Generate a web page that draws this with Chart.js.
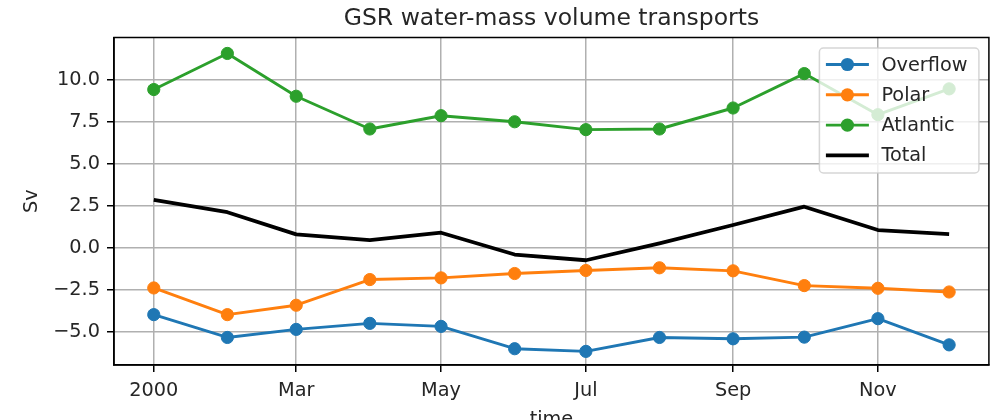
<!DOCTYPE html>
<html>
<head>
<meta charset="utf-8">
<script src="https://cdn.jsdelivr.net/npm/chart.js@4"></script>
<style>
  html, body { margin: 0; padding: 0; background: #fff; overflow: hidden; }
  canvas { display: block; }
</style>
</head>
<body>
<canvas id="c" width="996" height="440" style="width:996px;height:440px"></canvas>
<script>
// ---- data ----
const months = ['2000-01-01','2000-02-01','2000-03-01','2000-04-01','2000-05-01','2000-06-01',
                '2000-07-01','2000-08-01','2000-09-01','2000-10-01','2000-11-01','2000-12-01'];
const overflow = [-3.98, -5.34, -4.86, -4.50, -4.68, -6.01, -6.17, -5.34, -5.42, -5.32, -4.22, -5.78];
const polar    = [-2.39, -3.98, -3.42, -1.89, -1.79, -1.53, -1.35, -1.19, -1.37, -2.25, -2.41, -2.63];
const atlantic = [ 9.43, 11.58,  9.03,  7.08,  7.87,  7.51,  7.04,  7.08,  8.33, 10.38,  7.93,  9.47];
const total    = [ 2.85,  2.12,  0.80,  0.46,  0.90, -0.40, -0.74,  0.26,  1.36,  2.45,  1.06,  0.82];
const xTickDates  = ['2000-01-01','2000-03-01','2000-05-01','2000-07-01','2000-09-01','2000-11-01'];
const xTickLabels = ['2000','Mar','May','Jul','Sep','Nov'];
const yTicks = [-5, -2.5, 0, 2.5, 5, 7.5, 10];
const seriesNames = ['Overflow','Polar','Atlantic','Total'];

// ---- helpers ----
const DAY = 86400000;
const origin = Date.UTC(2000, 0, 1);
function dayOf(s) { const p = s.split('-').map(Number); return (Date.UTC(p[0], p[1]-1, p[2]) - origin) / DAY; }
const xDays = months.map(dayOf);
const xTickDays = xTickDates.map(dayOf);
const span = xDays[xDays.length-1] - xDays[0];
const pts = arr => arr.map((v, i) => ({x: xDays[i], y: v}));
const fmtY = v => (v < 0 ? '\u2212' : '') + Math.abs(v).toFixed(1);

const FONT = 'DejaVu Sans';
const TXT = '#262626';
Chart.defaults.font.family = FONT;
Chart.defaults.color = TXT;

const lw = 2.9, ptR = 6.1;
function lineDS(label, data, color, order) {
  return { label, data: pts(data), borderColor: color, backgroundColor: color,
    borderWidth: lw, pointRadius: ptR, pointBorderWidth: 1, pointBorderColor: color,
    pointBackgroundColor: color, tension: 0, fill: false, borderJoinStyle: 'round', order };
}

const frame = {
  id: 'frame',
  afterDatasetsDraw(chart) {
    const {ctx, chartArea: a} = chart;
    ctx.save();
    ctx.strokeStyle = '#000'; ctx.lineWidth = 1.5;
    ctx.strokeRect(a.left, a.top, a.right - a.left, a.bottom - a.top);
    ctx.restore();
  }
};

const mplLegend = {
  id: 'mplLegend',
  afterDraw(chart) {
    const {ctx, chartArea: a} = chart;
    const w = 159.5, h = 125, r = 4;
    const x0 = a.right - 10 - w, y0 = a.top + 10.5;
    ctx.save();
    ctx.beginPath();
    ctx.moveTo(x0 + r, y0);
    ctx.lineTo(x0 + w - r, y0); ctx.arcTo(x0 + w, y0, x0 + w, y0 + r, r);
    ctx.lineTo(x0 + w, y0 + h - r); ctx.arcTo(x0 + w, y0 + h, x0 + w - r, y0 + h, r);
    ctx.lineTo(x0 + r, y0 + h); ctx.arcTo(x0, y0 + h, x0, y0 + h - r, r);
    ctx.lineTo(x0, y0 + r); ctx.arcTo(x0, y0, x0 + r, y0, r);
    ctx.closePath();
    ctx.fillStyle = 'rgba(255,255,255,0.8)'; ctx.fill();
    ctx.strokeStyle = 'rgba(204,204,204,0.8)'; ctx.lineWidth = 1.5; ctx.stroke();
    chart.data.datasets.forEach((ds, i) => {
      const cy = y0 + 16.5 + i * 30.3;
      const lx0 = x0 + 6.5, lx1 = x0 + 49.5, mx = (lx0 + lx1) / 2;
      ctx.beginPath(); ctx.moveTo(lx0, cy); ctx.lineTo(lx1, cy);
      ctx.strokeStyle = ds.borderColor; ctx.lineWidth = ds.borderWidth; ctx.lineCap = 'butt'; ctx.stroke();
      if (ds.pointRadius > 0) {
        ctx.beginPath(); ctx.arc(mx, cy, ds.pointRadius + 0.5, 0, Math.PI * 2);
        ctx.fillStyle = ds.pointBackgroundColor; ctx.fill();
      }
      ctx.fillStyle = TXT; ctx.font = '19.3px "' + FONT + '"';
      ctx.textAlign = 'left'; ctx.textBaseline = 'middle';
      ctx.fillText(ds.label, x0 + 62, cy + 1);
    });
    ctx.restore();
  }
};

new Chart(document.getElementById('c'), {
  type: 'line',
  data: {
    datasets: [
      lineDS(seriesNames[0], overflow, '#1f77b4', 3),
      lineDS(seriesNames[1], polar, '#ff7f0e', 2),
      lineDS(seriesNames[2], atlantic, '#2ca02c', 1),
      { label: seriesNames[3], data: pts(total), borderColor: '#000', backgroundColor: '#000',
        borderWidth: 3.8, pointRadius: 0, tension: 0, fill: false, borderJoinStyle: 'round', order: 0 }
    ]
  },
  options: {
    responsive: false,
    animation: false,
    devicePixelRatio: 1,
    layout: { padding: { left: 0, right: 6, top: 0, bottom: 0 } },
    plugins: {
      legend: { display: false },
      tooltip: { enabled: false },
      title: {
        display: true, text: 'GSR water-mass volume transports', fullSize: false,
        color: TXT, font: { size: 23.5, weight: 'normal', lineHeight: 1.2 },
        padding: { top: 4.8, bottom: 4.5 }
      }
    },
    scales: {
      x: {
        type: 'linear',
        min: xDays[0] - 0.05 * span,
        max: xDays[xDays.length-1] + 0.05 * span,
        afterBuildTicks: s => { s.ticks = xTickDays.map(v => ({value: v})); },
        afterFit: s => { s.height = 75; },
        ticks: { autoSkip: false, maxRotation: 0, padding: 7, color: TXT,
                 font: { size: 19.3 }, callback: (v, i) => xTickLabels[i] },
        grid: { color: '#b0b0b0', lineWidth: 1.5, tickColor: '#000', tickLength: 7, tickWidth: 1.5 },
        border: { display: true, color: '#000', width: 1.5 },
        title: { display: true, text: 'time', color: TXT, font: { size: 19.3 }, padding: { top: 0, bottom: 8.3 } }
      },
      y: {
        type: 'linear',
        min: -6.98, max: 12.53,
        afterBuildTicks: s => { s.ticks = yTicks.map(v => ({value: v})); },
        afterFit: s => { s.width = 114; },
        ticks: { padding: 7, color: TXT, font: { size: 19.3 }, callback: v => fmtY(v) },
        grid: { color: '#b0b0b0', lineWidth: 1.5, tickColor: '#000', tickLength: 7, tickWidth: 1.5 },
        border: { display: true, color: '#000', width: 1.5 },
        title: { display: true, text: 'Sv', color: TXT, font: { size: 19.3 }, padding: { top: 20, bottom: 0 } }
      }
    }
  },
  plugins: [frame, mplLegend]
});
</script>
</body>
</html>
